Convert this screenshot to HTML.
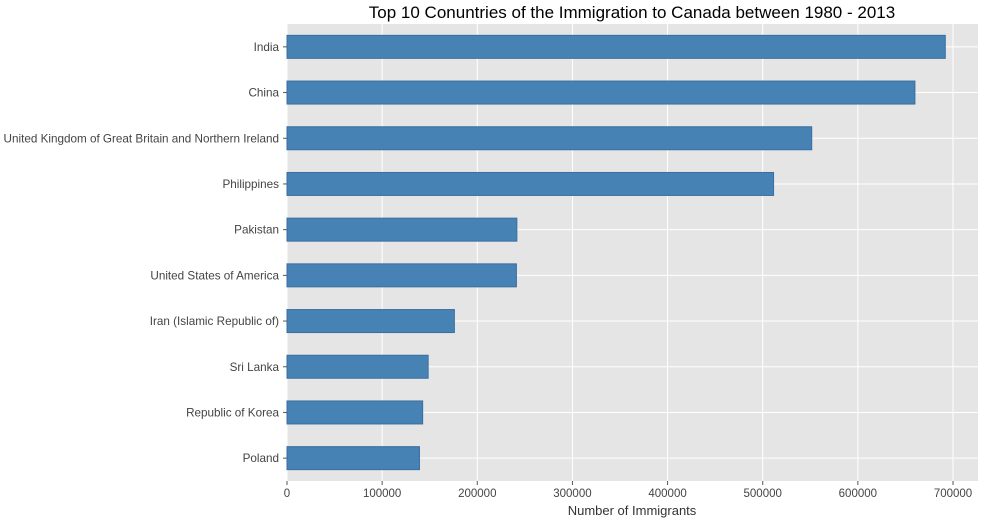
<!DOCTYPE html>
<html><head><meta charset="utf-8"><style>
body{margin:0;background:#fff;font-family:"Liberation Sans",sans-serif}
</style></head><body>
<svg id="chart" width="1000" height="518">
<text x="632" y="18" text-anchor="middle" font-size="17" fill="#000">Top 10 Conuntries of the Immigration to Canada between 1980 - 2013</text>
<rect x="287" y="24" width="691" height="457" fill="#e5e5e5"/>
<g id="grid"></g><g id="bars"></g><g id="ylabels"></g><g id="xticks"></g>
<text x="632" y="515" text-anchor="middle" font-size="13" fill="#333">Number of Immigrants</text>
</svg>
<script>
const countries=["India","China","United Kingdom of Great Britain and Northern Ireland","Philippines","Pakistan","United States of America","Iran (Islamic Republic of)","Sri Lanka","Republic of Korea","Poland"];
const values=[691904,659962,551500,511391,241600,241122,175923,148358,142581,139241];
const xTicks=[0,100000,200000,300000,400000,500000,600000,700000];
const NS="http://www.w3.org/2000/svg";
const x0=287,pxPer=666/700000,plotTop=24,plotBottom=481;
const slot=(plotBottom-plotTop)/countries.length;
const xs=v=>x0+v*pxPer, yc=i=>plotTop+slot*(i+0.5);
function mk(t,a,p){const e=document.createElementNS(NS,t);for(const k in a)e.setAttribute(k,a[k]);p.appendChild(e);return e;}
const grid=document.getElementById('grid'),bars=document.getElementById('bars'),yl=document.getElementById('ylabels'),xt=document.getElementById('xticks');
xTicks.forEach(v=>{
const g=mk('line',{x1:xs(v),x2:xs(v),y1:plotTop,y2:plotBottom,stroke:'#fff','stroke-width':1},grid);


const tk=mk('line',{x1:xs(v),x2:xs(v),y1:plotBottom,y2:plotBottom+4,stroke:'#555'},xt);


const t=mk('text',{x:xs(v),y:plotBottom+16,'text-anchor':'middle','font-size':11.5,fill:'#444'},xt);
t.textContent=v;


});
countries.forEach((c,i)=>{
const y=yc(i);
const g=mk('line',{x1:x0,x2:978,y1:y,y2:y,stroke:'#fff','stroke-width':1},grid);


const b=mk('rect',{x:x0,y:y-11.5,width:xs(values[i])-x0,height:23,fill:'#4682b4',stroke:'#3a6f9f','stroke-width':1},bars);


const tk=mk('line',{x1:x0-4,x2:x0,y1:y,y2:y,stroke:'#555'},yl);


const t=mk('text',{x:x0-8,y:y+4,'text-anchor':'end','font-size':11.7,fill:'#444'},yl);
t.textContent=c;


});
</script>
</body></html>
